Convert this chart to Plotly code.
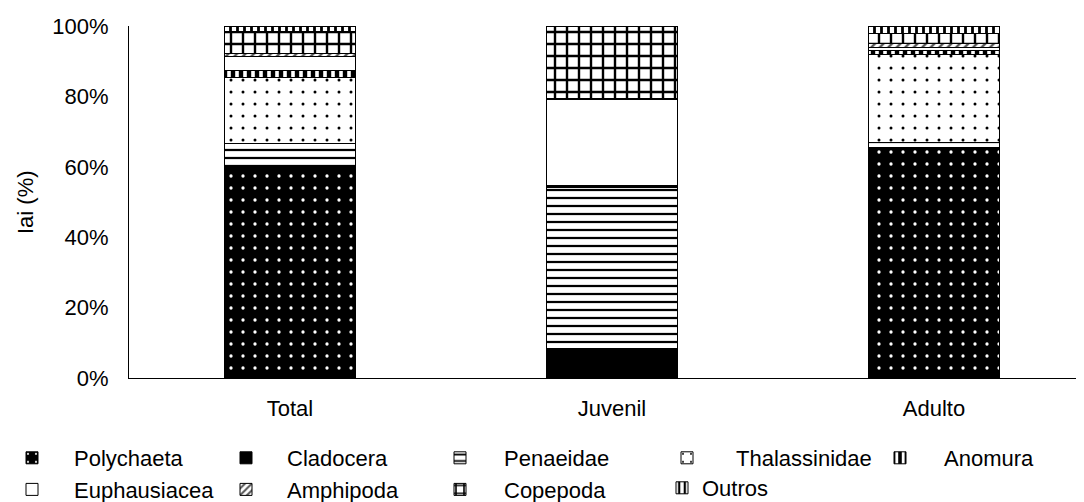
import plotly.graph_objects as go

categories = ["Total", "Juvenil", "Adulto"]
series_names = ["Polychaeta", "Cladocera", "Penaeidae", "Thalassinidae", "Anomura",
                "Euphausiacea", "Amphipoda", "Copepoda", "Outros"]
polychaeta = [59.7, 1.1, 65.6]
cladocera = [0.0, 7.4, 0.0]
penaeidae = [7.0, 45.5, 1.4]
thalassinidae = [18.7, 0.5, 24.8]
anomura = [2.0, 0.3, 1.1]
euphausiacea = [4.0, 24.2, 0.9]
amphipoda = [0.9, 0.3, 1.1]
copepoda = [6.0, 20.5, 3.1]
outros = [1.7, 0.2, 2.0]
y_ticks = [0, 20, 40, 60, 80, 100]
y_tick_labels = ["0%", "20%", "40%", "60%", "80%", "100%"]

values = [polychaeta, cladocera, penaeidae, thalassinidae, anomura,
          euphausiacea, amphipoda, copepoda, outros]

styles = [
    dict(color="black", pattern=dict(shape=".", fgcolor="white", bgcolor="black", size=12, solidity=0.06, fillmode="replace")),
    dict(color="black", pattern=dict(shape="")),
    dict(color="white", pattern=dict(shape="-", fgcolor="black", bgcolor="white", size=8, solidity=0.28, fillmode="replace")),
    dict(color="white", pattern=dict(shape=".", fgcolor="black", bgcolor="white", size=12, solidity=0.05, fillmode="replace")),
    dict(color="black", pattern=dict(shape="|", fgcolor="white", bgcolor="black", size=8, solidity=0.45, fillmode="replace")),
    dict(color="white", pattern=dict(shape="")),
    dict(color="white", pattern=dict(shape="/", fgcolor="#555555", bgcolor="white", size=6, solidity=0.4, fillmode="replace")),
    dict(color="white", pattern=dict(shape="+", fgcolor="black", bgcolor="white", size=12, solidity=0.36, fillmode="replace")),
    dict(color="white", pattern=dict(shape="|", fgcolor="black", bgcolor="white", size=7, solidity=0.4, fillmode="replace")),
]

# legend column of each series (reference arranges 5 columns, 2 rows)
legend_ids = ["legend", "legend2", "legend3", "legend4", "legend5",
              "legend", "legend2", "legend3", "legend6"]

xpos = list(range(len(categories)))
fig = go.Figure()
for name, vals, st, lg in zip(series_names, values, styles, legend_ids):
    fig.add_trace(go.Bar(
        name=name, x=xpos, y=[v if v > 0 else None for v in vals],
        width=0.404, legend=lg,
        marker=dict(color=st["color"], pattern=st["pattern"], line=dict(color="black", width=1)),
    ))

# page body adds an 8px offset; figure sized to fit the 1084x502 window
OFF = 8
W, H = 1084 - OFF, 502 - OFF
ml, mr, mt, mb = 121, 0, 18, 124
pw = W - ml - mr
ph = H - mt - mb
FS = 22
LTOP = 429

def leg(left_screen, itemwidth, top_fig):
    return dict(orientation="v", x=(left_screen - OFF - ml) / pw, xanchor="left",
                y=(mt + ph - top_fig) / ph, yanchor="top", itemwidth=itemwidth,
                font=dict(size=FS), traceorder="normal", bgcolor="rgba(0,0,0,0)")

fig.update_layout(
    width=W, height=H, barmode="stack",
    margin=dict(l=ml, r=mr, t=mt, b=mb, autoexpand=False),
    paper_bgcolor="white", plot_bgcolor="white",
    font=dict(family="Liberation Sans, Arial", size=FS, color="black"),
    xaxis=dict(range=[-0.5, -0.5 + pw / 322.0], tickvals=xpos, ticktext=categories,
               showline=True, linecolor="black", linewidth=1, showgrid=False,
               ticks="", ticklabelstandoff=11, zeroline=False),
    yaxis=dict(range=[0, 100], tickvals=y_ticks, ticktext=y_tick_labels,
               showline=True, linecolor="black", linewidth=1, showgrid=False,
               ticks="", ticklabelstandoff=15, zeroline=False),
    legend=leg(-10, 74, LTOP),
    legend2=leg(205, 72, LTOP),
    legend3=leg(416, 78, LTOP),
    legend4=leg(638, 88, LTOP),
    legend5=leg(856, 78, LTOP),
    legend6=leg(662, 30, LTOP + 30),
    annotations=[dict(text="Iai (%)", textangle=-90, xref="paper", yref="paper",
                      x=(17 - ml) / pw, y=(mt + ph - 194) / ph, showarrow=False,
                      font=dict(size=FS), xanchor="center", yanchor="middle")],
)

fig.write_html("out.html")
